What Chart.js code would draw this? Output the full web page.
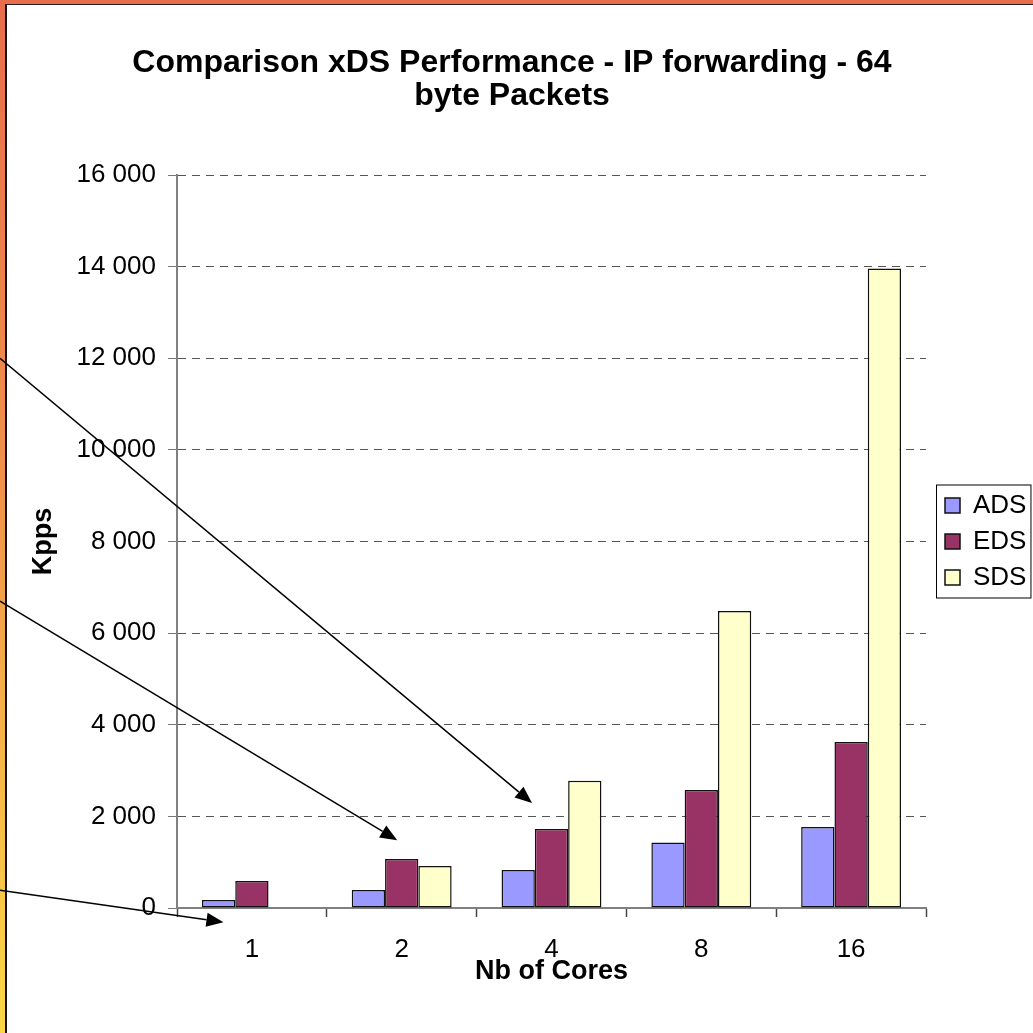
<!DOCTYPE html>
<html>
<head>
<meta charset="utf-8">
<title>Comparison xDS Performance</title>
<script src="https://cdn.jsdelivr.net/npm/chart.js@4.4.0/dist/chart.umd.min.js"></script>
<style>
  html, body { margin: 0; padding: 0; background: #fff; }
  #frame {
    position: absolute; left: 0; top: 0; width: 1033px; height: 1033px; overflow: hidden;
    background: linear-gradient(to bottom, #e86d4c 0%, #f0904a 45%, #f7bf47 80%, #fad646 100%);
  }
  #paper {
    position: absolute; left: 5px; top: 4px; right: 0; bottom: 0;
    background: #fff; border-left: 2px solid #111; border-top: 1px solid #222;
  }
  #chart { position: absolute; left: 0; top: 0; }
</style>
</head>
<body>
<div id="frame"><div id="paper"></div></div>
<canvas id="chart" width="1033" height="1033"></canvas>
<script>
const cores = ["1", "2", "4", "8", "16"];
const ads = [175, 395, 830, 1430, 1770];
const eds = [590, 1070, 1725, 2575, 3625];
const sds = [null, 915, 2775, 6485, 13960];
const kppsMax = 16000;
const kppsStep = 2000;

// annotation arrows: start at the left page edge (height given in Kpps),
// tip at a position on the category axis (index) and a Kpps value
const arrowStartKpps = [12000, 6700, 390];
const arrowTipCore = [1.87, 0.97, -0.19];
const arrowTipKpps = [2290, 1480, -310];

Chart.defaults.font.family = "'Liberation Sans', Arial, sans-serif";
Chart.defaults.color = "#000";

function formatKpps(v) {
  return String(v).replace(/\B(?=(\d{3})+(?!\d))/g, " ");
}

// draws the box round the legend, like the old office chart
const legendFrame = {
  id: "legendFrame",
  afterLayout(chart) {
    chart.legend.left += 9;
    chart.legend.right += 9;
  },
  afterDraw(chart) {
    const boxes = chart.legend.legendHitBoxes;
    if (!boxes || !boxes.length) return;
    const ctx = chart.ctx;
    let left = Infinity, right = -Infinity;
    boxes.forEach(b => {
      left = Math.min(left, b.left);
      right = Math.max(right, b.left + b.width);
    });
    const top = boxes[0].top;
    const last = boxes[boxes.length - 1];
    const bottom = last.top + last.height;
    ctx.save();
    ctx.strokeStyle = "#000";
    ctx.lineWidth = 1;
    ctx.strokeRect(left - 9 + 0.5, top - 8 + 0.5, right - left + 13, bottom - top + 15);
    ctx.restore();
  }
};

const arrows = {
  id: "arrows",
  afterDraw(chart) {
    const { ctx, scales } = chart;
    ctx.save();
    ctx.strokeStyle = "#000";
    ctx.fillStyle = "#000";
    ctx.lineWidth = 1.5;
    for (let i = 0; i < arrowStartKpps.length; i++) {
      const x0 = 0;
      const y0 = scales.y.getPixelForValue(arrowStartKpps[i]);
      const x1 = scales.x.getPixelForValue(arrowTipCore[i]);
      const y1 = scales.y.getPixelForValue(arrowTipKpps[i]);
      const a = Math.atan2(y1 - y0, x1 - x0);
      const len = 17, half = 7;
      const bx = x1 - len * Math.cos(a), by = y1 - len * Math.sin(a);
      ctx.beginPath();
      ctx.moveTo(x0, y0);
      ctx.lineTo(bx, by);
      ctx.stroke();
      ctx.beginPath();
      ctx.moveTo(x1, y1);
      ctx.lineTo(bx + half * Math.sin(a), by - half * Math.cos(a));
      ctx.lineTo(bx - half * Math.sin(a), by + half * Math.cos(a));
      ctx.closePath();
      ctx.fill();
    }
    ctx.restore();
  }
};

const ctx = document.getElementById("chart").getContext("2d");
new Chart(ctx, {
  type: "bar",
  data: {
    labels: cores,
    datasets: [
      { label: "ADS", data: ads, backgroundColor: "#9999ff" },
      { label: "EDS", data: eds, backgroundColor: "#993366" },
      { label: "SDS", data: sds, backgroundColor: "#ffffcc" }
    ].map(d => Object.assign(d, {
      borderColor: "#111",
      borderWidth: 1.5,
      borderSkipped: false,
      categoryPercentage: 2 / 3,
      barPercentage: 1
    }))
  },
  options: {
    responsive: false,
    animation: false,
    layout: { padding: { left: 0, right: 9, top: 0, bottom: 0 } },
    plugins: {
      title: {
        display: true,
        text: ["Comparison xDS Performance - IP forwarding - 64", "byte Packets"],
        color: "#000",
        font: { size: 32, weight: "bold", lineHeight: 1.05 },
        padding: { top: 46, bottom: 61.8 }
      },
      legend: {
        position: "right",
        fullSize: false,
        maxWidth: 98,
        labels: {
          boxWidth: 15,
          boxHeight: 15,
          padding: 10,
          color: "#000",
          font: { size: 26 }
        }
      },
      tooltip: { enabled: false }
    },
    scales: {
      x: {
        ticks: { color: "#000", font: { size: 26 }, padding: 17 },
        grid: { drawOnChartArea: false, offset: true, tickLength: 9, tickColor: "#444", tickWidth: 1.5 },
        border: { color: "#808080", width: 2 },
        title: {
          display: true,
          text: "Nb of Cores",
          color: "#000",
          font: { size: 27, weight: "bold" },
          padding: { top: 0, bottom: 45 }
        },
        afterFit(scale) { scale.height = 125; }
      },
      y: {
        min: 0,
        max: kppsMax,
        ticks: {
          stepSize: kppsStep,
          padding: 12,
          color: "#000",
          font: { size: 26 },
          callback: v => formatKpps(v)
        },
        grid: { color: "#555", lineWidth: 1, tickLength: 9, tickColor: "#777" },
        border: { color: "#808080", width: 2, dash: [8, 6] },
        title: {
          display: true,
          text: "Kpps",
          color: "#000",
          font: { size: 27, weight: "bold" },
          padding: { top: 27, bottom: 0 }
        },
        afterFit(scale) { scale.width = 177; }
      }
    }
  },
  plugins: [legendFrame, arrows]
});
</script>
</body>
</html>
